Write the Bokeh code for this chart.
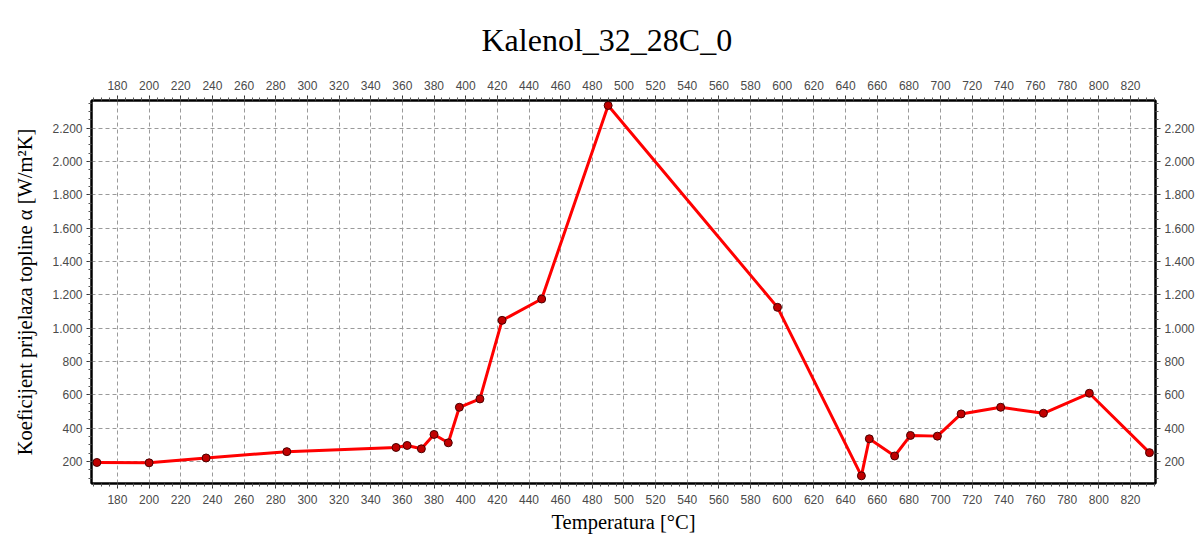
from bokeh.plotting import figure
from bokeh.models import Range1d, LinearAxis, FixedTicker
from bokeh.embed import file_html
from bokeh.resources import INLINE

# data
temperature = [167, 200, 236, 287, 356, 363, 372, 380, 389, 396, 409, 423, 448,
               490, 597, 650, 655, 671, 681, 698, 713, 738, 765, 794, 832]
alpha = [195, 193, 222, 260, 285, 297, 277, 363, 313, 526, 576, 1047, 1175,
         2335, 1125, 115, 337, 234, 357, 353, 486, 526, 490, 610, 254]

x_ticks = list(range(180, 821, 20))
y_ticks = list(range(200, 2201, 200))
y_tick_labels = {v: (f"{v // 1000}.{v % 1000:03d}" if v >= 1000 else str(v)) for v in y_ticks}

title_text = "Kalenol_32_28C_0"
x_label = "Temperatura [°C]"
y_label = "Koeficijent prijelaza topline α [W/m²K]"

p = figure(width=1204, height=535, output_backend="svg", toolbar_location=None,
           x_range=Range1d(163.6, 835.8), y_range=Range1d(69, 2365),
           min_border_left=91, min_border_right=49, min_border_top=100, min_border_bottom=50,
           x_axis_location="below", y_axis_location="left")

p.title.text = title_text
p.title.align = "left"
p.title.offset = 390
p.title.vertical_align = "top"
p.title.standoff = 35
p.title.text_font = "Liberation Serif"
p.title.text_font_size = "32px"
p.title.text_font_style = "normal"
p.title.text_color = "#000000"

p.outline_line_color = "black"
p.outline_line_width = 2
p.background_fill_color = "white"
p.border_fill_color = "white"

xt = FixedTicker(ticks=x_ticks, minor_ticks=list(range(165, 836, 5)))
yt = FixedTicker(ticks=y_ticks, minor_ticks=list(range(100, 2351, 50)))

bottom_axis = p.below[0]
left_axis = p.left[0]

top_axis = LinearAxis(ticker=xt)
right_axis = LinearAxis(ticker=yt, major_label_overrides=y_tick_labels)
p.add_layout(top_axis, "above")
p.add_layout(right_axis, "right")

bottom_axis.ticker = xt
left_axis.ticker = yt
left_axis.major_label_overrides = y_tick_labels

for ax in (bottom_axis, left_axis, top_axis, right_axis):
    ax.axis_line_color = "black"
    ax.axis_line_width = 2
    ax.major_tick_line_color = "#333333"
    ax.minor_tick_line_color = "#555555"
    ax.major_tick_out = 5
    ax.major_tick_in = 0
    ax.minor_tick_out = 3
    ax.minor_tick_in = 0
    ax.major_label_text_font = "Liberation Sans"
    ax.major_label_text_font_size = "12px"
    ax.major_label_text_color = "#4a4a4a"
    ax.axis_label_text_font = "Liberation Serif"
    ax.axis_label_text_font_size = "20.5px"
    ax.axis_label_text_font_style = "normal"
    ax.axis_label_text_color = "#000000"

bottom_axis.major_label_standoff = 6
top_axis.major_label_standoff = 6
left_axis.major_label_standoff = 4
right_axis.major_label_standoff = 4
bottom_axis.axis_label = x_label
bottom_axis.axis_label_standoff = 4
left_axis.axis_label = y_label
left_axis.axis_label_standoff = 13

p.xgrid.ticker = xt
p.ygrid.ticker = yt
for g in (p.xgrid[0], p.ygrid[0]):
    g.grid_line_color = "#9a9a9a"
    g.grid_line_dash = "4 3"
    g.grid_line_width = 1

p.line(temperature, alpha, line_color="#ff0000", line_width=3)
p.scatter(temperature, alpha, size=8, fill_color="#c00000", line_color="#4a0000", line_width=1)

open("out.html", "w").write(file_html(p, INLINE))
